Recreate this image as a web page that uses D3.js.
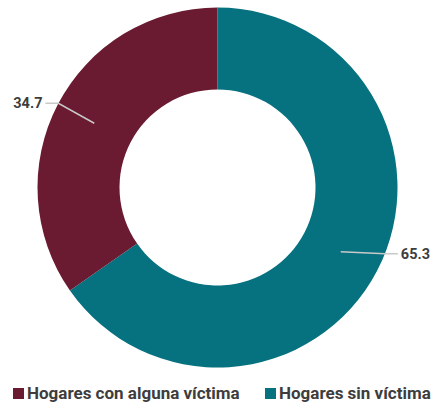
<!DOCTYPE html>
<html><head><meta charset="utf-8">
<script src="https://cdn.jsdelivr.net/npm/d3@7"></script>
<style>body{margin:0;background:#fff}svg{display:block}</style>
</head><body><svg id="c" width="432" height="402"></svg>
<script>
const categories = ["Hogares sin víctima", "Hogares con alguna víctima"];
const values = [65.3, 34.7];
const colors = ["#06717f", "#6a1b31"];
const legendOrder = ["Hogares con alguna víctima", "Hogares sin víctima"];

const svg = d3.select("#c");
const cx = 217.5, cy = 187.5, R = 180, r = 98;
const g = svg.append("g").attr("transform", `translate(${cx},${cy})`);
const color = d3.scaleOrdinal().domain(categories).range(colors);
const pie = d3.pie().sort(null).value(d => d.v);
const data = categories.map((c, i) => ({c, v: values[i]}));
const arcs = pie(data);
const arc = d3.arc().innerRadius(r).outerRadius(R);
g.selectAll("path.s").data(arcs).join("path").attr("class", "s")
  .attr("d", arc).attr("fill", d => color(d.data.c));

// leader lines + labels
const elbowDy = {"Hogares sin víctima": 2, "Hogares con alguna víctima": -20};
arcs.forEach(a => {
  const [x0, y0] = arc.centroid(a);
  const mid = (a.startAngle + a.endAngle) / 2;
  const side = Math.sin(mid) >= 0 ? 1 : -1;
  const y1 = y0 + elbowDy[a.data.c];
  const x1 = side * Math.sqrt(R * R - y1 * y1);
  const x2 = x1 + side * 13;
  g.append("polyline")
    .attr("points", [[x0, y0], [x1, y1], [x2, y1]].map(p => p.join(",")).join(" "))
    .attr("fill", "none").attr("stroke", "#c9c9c9").attr("stroke-width", 1.5);
  g.append("text").attr("x", x2 + side * 3).attr("y", y1).attr("dy", "0.36em")
    .attr("text-anchor", side > 0 ? "start" : "end")
    .attr("font-family", "Roboto, sans-serif").attr("font-weight", "bold")
    .attr("font-size", 14.5).attr("fill", "#3d3d3d")
    .text(d3.format(".1f")(a.data.v));
});

// legend
const lx = [13, 265];
const lg = svg.append("g");
legendOrder.forEach((name, i) => {
  lg.append("rect").attr("x", lx[i]).attr("y", 388).attr("width", 11).attr("height", 11)
    .attr("fill", color(name));
  lg.append("text").attr("x", lx[i] + 14).attr("y", 399)
    .attr("font-family", "Roboto, sans-serif").attr("font-weight", "bold")
    .attr("font-size", 17).attr("fill", "#3d3d3d").text(name);
});
</script></body></html>
